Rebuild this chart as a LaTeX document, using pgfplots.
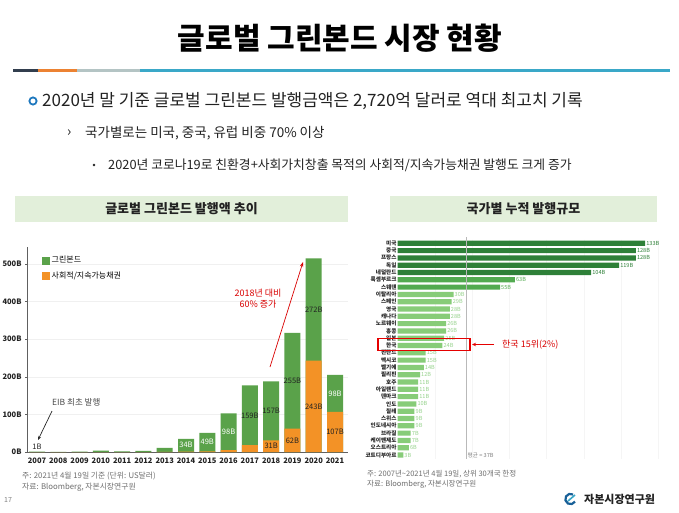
\documentclass[border=0pt]{standalone}
\usepackage{pgfplots}
\pgfplotsset{compat=1.18}
\usepackage{pgfplotstable}
\usepackage{fontspec}
\setmainfont{Noto Sans CJK KR}
\usetikzlibrary{arrows.meta}
\definecolor{gbgreen}{RGB}{90,162,74}
\definecolor{sorange}{RGB}{243,146,38}
\definecolor{barnavy}{RGB}{50,62,78}
\definecolor{barorange}{RGB}{236,130,50}
\definecolor{bargray}{RGB}{180,196,196}
\definecolor{barteal}{RGB}{58,168,200}
\definecolor{bulletblue}{RGB}{30,120,190}
\definecolor{hdrfill}{RGB}{226,239,218}
\definecolor{textdark}{RGB}{34,34,34}
\definecolor{darkg}{RGB}{46,128,56}
\definecolor{midg}{RGB}{82,170,80}
\definecolor{lightg}{RGB}{135,204,120}
\definecolor{lightglab}{RGB}{150,210,140}
\definecolor{notegray}{RGB}{110,110,110}

\pgfplotstableread{
year green social
2007 1 0
2008 0.4 0
2009 0.8 0
2010 4 0
2011 1.5 0
2012 3 0
2013 10.5 0.5
2014 34 1
2015 49 2
2016 98 5
2017 159 18
2018 157 31
2019 255 62
2020 272 243
2021 98 107
}\bondtbl

\pgfplotstableread{
year pos label
2014 18 34B
2015 26.5 49B
2016 54 98B
2021 156 98B
}\whitelab

\pgfplotstableread{
year pos label
2007 14 1B
2017 97.5 159B
2018 109.5 157B
2018 15.5 31B
2019 189.5 255B
2019 31 62B
2020 379 272B
2020 121.5 243B
2021 53.5 107B
}\darklab

\begin{document}
\begin{tikzpicture}[x=1pt,y=1pt]
\path[use as bounding box, fill=white] (0,0) rectangle (679,-513);

% title
\node[font=\fontsize{30}{31}\selectfont\bfseries, text=black] at (340,-38) {글로벌 그린본드 시장 현황};
% colour bar
\fill[barnavy] (13,-69) rectangle (38,-72.5);
\fill[barorange] (38,-69) rectangle (77,-72.5);
\fill[bargray] (77,-69) rectangle (140,-72.5);
\fill[barteal] (140,-69) rectangle (670,-72.5);

% bullets
\draw[bulletblue, line width=1.8pt] (33,-101) circle (3.6);
\node[anchor=west, inner sep=0pt, font=\fontsize{17}{18}\selectfont, text=textdark] at (42,-101) {2020년 말 기준 글로벌 그린본드 발행금액은 2,720억 달러로 역대 최고치 기록};
\node[anchor=west, inner sep=0pt, font=\fontsize{14}{14}\selectfont, text=textdark] at (67,-133) {›};
\node[anchor=west, inner sep=0pt, font=\fontsize{13.5}{14}\selectfont, text=textdark] at (85,-133) {국가별로는 미국, 중국, 유럽 비중 70\% 이상};
\fill[textdark] (94,-165) circle (1.4);
\node[anchor=west, inner sep=0pt, font=\fontsize{12.8}{13}\selectfont, text=textdark] at (108,-165) {2020년 코로나19로 친환경+사회가치창출 목적의 사회적/지속가능채권 발행도 크게 증가};

% section headers
\fill[hdrfill] (15,-196) rectangle (348,-222);
\node[font=\fontsize{13}{14}\selectfont\bfseries, text=textdark] at (181.5,-209) {글로벌 그린본드 발행액 추이};
\fill[hdrfill] (390,-196) rectangle (657,-222);
\node[font=\fontsize{13}{14}\selectfont\bfseries, text=textdark] at (523.5,-209) {국가별 누적 발행규모};

% ---------------- left chart ----------------
\begin{axis}[
  at={(27pt,-452pt)}, anchor=south west,
  scale only axis, width=321pt, height=205pt,
  xmin=2006.53, xmax=2021.61, ymin=0, ymax=545,
  axis lines=left,
  axis line style={-, draw=gray!75!black, line width=0.8pt},
  /pgf/number format/assume math mode=true,
  xtick={2007,...,2021},
  xticklabel style={font=\fontsize{7.5}{8}\selectfont\bfseries, text=textdark, /pgf/number format/1000 sep={}},
  xtick style={draw=none},
  ytick={0,100,...,500},
  yticklabels={0B,100B,200B,300B,400B,500B},
  yticklabel style={font=\fontsize{7.5}{8}\selectfont\bfseries, text=textdark},
  ytick style={draw=gray!75!black},
  major tick length=2pt, tick align=outside,
  ymajorgrids, grid style={gray!12},
  legend style={at={(0.047,0.965)}, anchor=north west, draw=none, fill=none,
    font=\fontsize{8}{9}\selectfont, row sep=3pt, inner sep=0pt,
    /tikz/every even column/.append style={column sep=2pt}},
  legend cell align=left,
  clip=false,
]
\addplot[ybar, bar width=16pt, bar shift=0pt, fill=gbgreen, draw=none, forget plot]
  table[x=year, y expr=\thisrow{green}+\thisrow{social}] {\bondtbl};
\addplot[ybar, bar width=16pt, bar shift=0pt, fill=sorange, draw=none, forget plot]
  table[x=year, y=social] {\bondtbl};
\addplot[draw=none, forget plot, nodes near coords, point meta=explicit symbolic,
  every node near coord/.style={anchor=center, inner sep=0pt, font=\fontsize{7.5}{8}\selectfont, text=white}]
  table[x=year, y=pos, meta=label] {\whitelab};
\addplot[draw=none, forget plot, nodes near coords, point meta=explicit symbolic,
  every node near coord/.style={anchor=center, inner sep=0pt, font=\fontsize{7.5}{8}\selectfont, text=textdark}]
  table[x=year, y=pos, meta=label] {\darklab};
\addlegendimage{legend image code/.code={\fill[gbgreen] (0pt,-3.5pt) rectangle (7pt,3.5pt);}}
\addlegendentry{그린본드}
\addlegendimage{legend image code/.code={\fill[sorange] (0pt,-3.5pt) rectangle (7pt,3.5pt);}}
\addlegendentry{사회적/지속가능채권}
\end{axis}

% left annotations
\node[anchor=west, inner sep=0pt, font=\fontsize{8.5}{9}\selectfont, text=gray!60!black] at (52,-402) {EIB 최초 발행};
\draw[gray!30!black, line width=0.7pt, -{Stealth[length=4pt,width=3pt]}] (52,-411) -- (38,-440);
\node[align=center, text=red!85!black, font=\fontsize{9}{11}\selectfont, inner sep=0pt] at (258,-299) {2018년 대비\\60\% 증가};
\draw[red!85!black, line width=0.7pt, -{Stealth[length=5pt,width=3.5pt]}] (270,-367) -- (303,-262);

% ---------------- right chart ----------------
\begin{axis}[
  at={(397.7pt,-458.65pt)}, anchor=south west,
  scale only axis, width=262.3pt, height=219pt,
  xmin=0, xmax=141, ymin=0.5, ymax=30.5, y dir=reverse,
  axis line style={draw=none},
  /pgf/number format/assume math mode=true,
  ytick={1,...,30},
  yticklabels={미국,중국,프랑스,독일,네덜란드,룩셈부르크,스웨덴,이탈리아,스페인,영국,캐나다,노르웨이,홍콩,일본,한국,핀란드,멕시코,벨기에,필리핀,호주,아일랜드,덴마크,인도,칠레,스위스,인도네시아,브라질,케이맨제도,오스트리아,코트디부아르},
  yticklabel style={font=\fontsize{5.6}{6}\selectfont\bfseries, text=textdark, inner sep=1pt},
  ytick style={draw=none},
  xtick={20,40,...,140}, xticklabels={}, xtick style={draw=none},
  xmajorgrids, grid style={gray!8},
  clip=false,
]
\addplot[xbar, bar width=5.2pt, bar shift=0pt, fill=darkg, draw=none,
  nodes near coords={\pgfmathprintnumber{\pgfplotspointmeta}B}, point meta=x,
  every node near coord/.style={anchor=west, inner sep=1pt, font=\fontsize{5.6}{6}\selectfont, text=darkg}]
  coordinates {(133,1) (128,2) (128,3) (119,4) (104,5)};
\addplot[xbar, bar width=5.2pt, bar shift=0pt, fill=midg, draw=none,
  nodes near coords={\pgfmathprintnumber{\pgfplotspointmeta}B}, point meta=x,
  every node near coord/.style={anchor=west, inner sep=1pt, font=\fontsize{5.6}{6}\selectfont, text=midg}]
  coordinates {(63,6) (55,7)};
\addplot[xbar, bar width=5.2pt, bar shift=0pt, fill=lightg, draw=none,
  nodes near coords={\pgfmathprintnumber{\pgfplotspointmeta}B}, point meta=x,
  every node near coord/.style={anchor=west, inner sep=1pt, font=\fontsize{5.6}{6}\selectfont, text=lightglab}]
  coordinates {(30,8) (29,9) (28,10) (28,11) (26,12) (26,13) (25,14) (24,15) (15,16) (15,17) (14,18) (12,19) (11,20) (11,21) (11,22) (10,23) (9,24) (9,25) (9,26) (7,27) (7,28) (6,29) (3,30)};
\addplot[gray!55, line width=0.6pt] coordinates {(37,0.2) (37,30.5)};
\node[anchor=west, inner sep=1pt, font=\fontsize{5.6}{6}\selectfont, text=gray] at (axis cs:37,30) {평균 = 37B};
\end{axis}

% Korea highlight
\draw[red!90!black, line width=1.1pt] (378,-338.3) rectangle (470,-350.7);
\draw[red!90!black, line width=0.8pt, -{Stealth[length=4pt,width=3.5pt]}] (494,-344.5) -- (472,-344.5);
\node[anchor=west, inner sep=0pt, text=red!85!black, font=\fontsize{9}{10}\selectfont] at (502,-344.5) {한국 15위(2\%)};

% footnotes
\node[anchor=west, inner sep=0pt, font=\fontsize{7.8}{8}\selectfont, text=notegray] at (22,-476) {주: 2021년 4월 19일 기준 (단위: US달러)};
\node[anchor=west, inner sep=0pt, font=\fontsize{7.8}{8}\selectfont, text=notegray] at (22,-487) {자료: Bloomberg, 자본시장연구원};
\node[anchor=west, inner sep=0pt, font=\fontsize{7}{8}\selectfont, text=gray] at (4,-500) {17};
\node[anchor=west, inner sep=0pt, font=\fontsize{7.5}{8}\selectfont, text=notegray] at (367,-474.5) {주: 2007년\textasciitilde 2021년 4월 19일, 상위 30개국 한정};
\node[anchor=west, inner sep=0pt, font=\fontsize{7.5}{8}\selectfont, text=notegray] at (367,-484.5) {자료: Bloomberg, 자본시장연구원};

% logo
\draw[bulletblue!80!black, line width=2.2pt] (570.5,-499) ++(60:5.2) arc (60:330:5.2);
\draw[barteal, line width=1.6pt] (568,-501) -- (575,-495);
\node[anchor=west, inner sep=0pt, font=\fontsize{11}{12}\selectfont\bfseries, text=textdark] at (584,-499) {자본시장연구원};
\end{tikzpicture}
\end{document}
